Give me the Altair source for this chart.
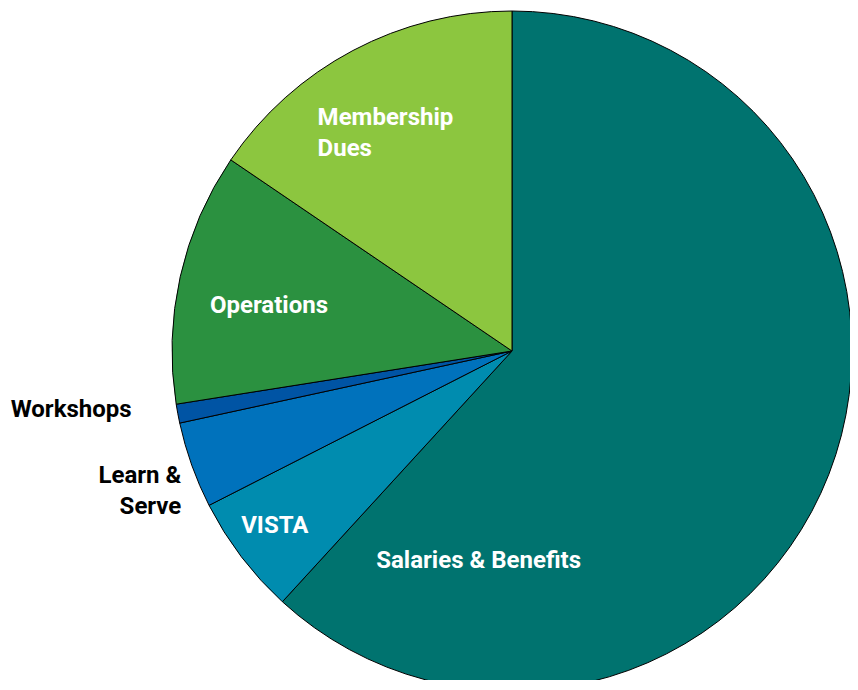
import math
import altair as alt
import pandas as pd

# ---- data ----
categories = ["Salaries & Benefits", "VISTA", "Learn & Serve", "Workshops", "Operations", "Membership Dues"]
shares = [61.8, 5.7, 4.1, 0.9, 12.0, 15.5]
labels = ["Salaries & Benefits", "VISTA", "Learn &\nServe", "Workshops", "Operations", "Membership\nDues"]
colors = ["#00736F", "#008CAF", "#0072BC", "#0054A4", "#2B9140", "#8CC63F"]

# ---- derived table (slice mid-angles from the shares) ----
total = sum(shares)
mids = []
acc = 0.0
for s in shares:
    mids.append((acc + s / 2) / total * 2 * math.pi)
    acc += s
df = pd.DataFrame({
    "category": categories,
    "share": shares,
    "order": list(range(len(categories))),
    "label": labels,
    "mid": mids,
})

# ---- layout ----
CX, CY, R = 504, 343, 340
FONT = "Roboto"
label_layout = {
    "Salaries & Benefits": dict(radius=212, dx=-231, dy=140, align="center", color="white"),
    "VISTA": dict(radius=293, dx=-4, dy=5, align="center", color="white"),
    "Learn & Serve": dict(radius=350, dx=-1, dy=14, align="right", color="black"),
    "Workshops": dict(radius=385, dx=-2, dy=-5, align="right", color="black"),
    "Operations": dict(radius=249, dx=0, dy=16, align="center", color="white"),
    "Membership Dues": dict(radius=253, dx=-76, dy=-2, align="left", color="white"),
}

base = alt.Chart(df)

pie = base.mark_arc(radius=R, stroke="black", strokeWidth=1).encode(
    theta=alt.Theta("share:Q", stack=True),
    color=alt.Color("category:N", scale=alt.Scale(domain=categories, range=colors), legend=None),
    order=alt.Order("order:Q"),
    x=alt.value(CX),
    y=alt.value(CY),
)

layers = [pie]
for cat, lay in label_layout.items():
    t = base.transform_filter(alt.datum.category == cat).mark_text(
        radius=lay["radius"], dx=lay["dx"], dy=lay["dy"], align=lay["align"],
        baseline="alphabetic", font=FONT, fontSize=24, fontWeight="bold",
        color=lay["color"], lineBreak="\n", lineHeight=31,
    ).encode(
        theta=alt.Theta("mid:Q", scale=None),
        text="label:N",
        x=alt.value(CX),
        y=alt.value(CY),
    )
    layers.append(t)

chart = alt.layer(*layers).properties(
    width=842, height=672, autosize=alt.AutoSizeParams(type="none"), padding=0,
).configure_view(stroke=None)

chart.save("out.html", embed_options={"renderer": "svg", "actions": False})
